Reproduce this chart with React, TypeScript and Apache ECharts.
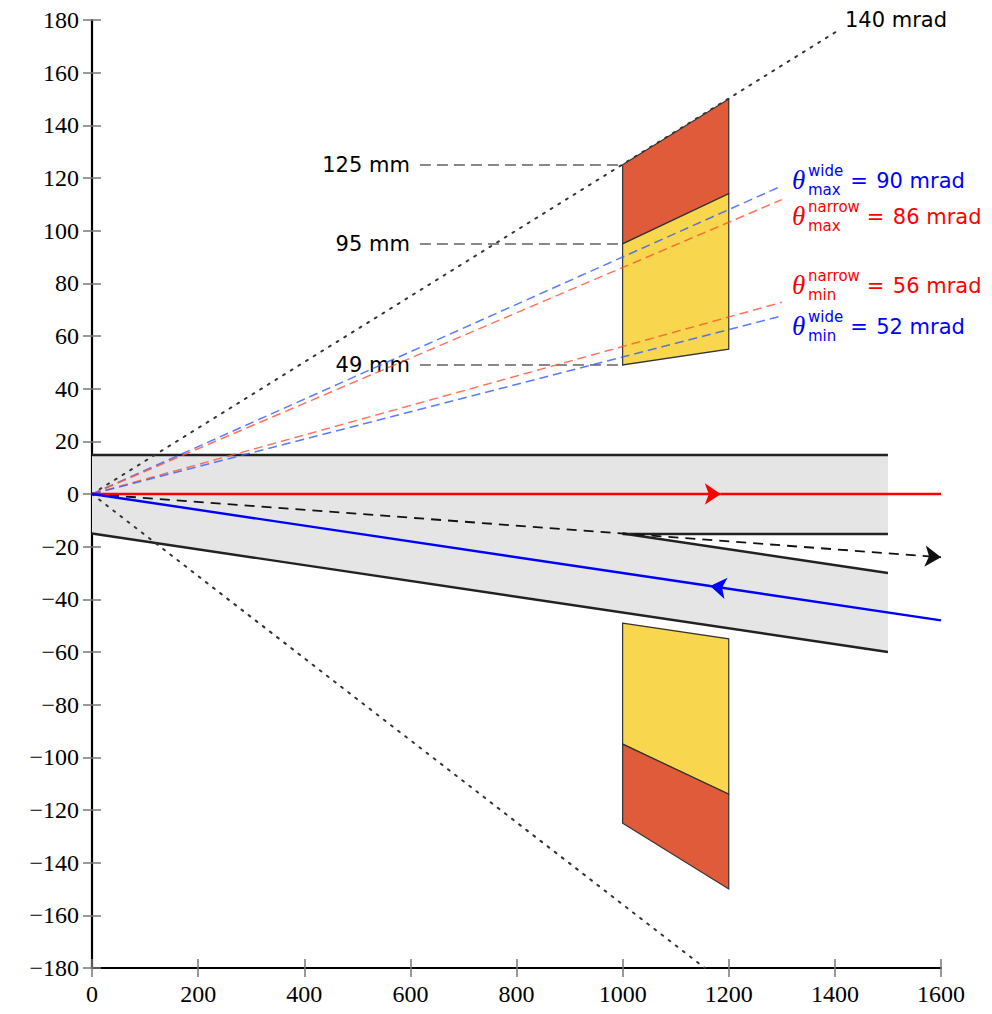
import React, { useEffect, useRef } from "react";
import * as echarts from "echarts";

// ---------- data ----------
const xMin = 0;
const xMax = 1600;
const xInterval = 200;
const yMin = -180;
const yMax = 180;
const yInterval = 20;

// beam pipe (gray band) outline, in (z mm, r mm)
const bandOutline: number[][] = [
  [0, 15], [1500, 15], [1500, -15], [1000, -15], [1500, -30], [1500, -60], [0, -15],
];
const bandEdges: number[][][] = [
  [[0, 15], [1500, 15]],
  [[0, -15], [1500, -60]],
  [[1000, -15], [1500, -15]],
  [[1000, -15], [1500, -30]],
];

// detector blocks
const upperOrange: number[][] = [[1000, 125], [1200, 150], [1200, 114], [1000, 95]];
const upperYellow: number[][] = [[1000, 95], [1200, 114], [1200, 55], [1000, 49]];
const lowerYellow: number[][] = [[1000, -49], [1200, -55], [1200, -114], [1000, -95]];
const lowerOrange: number[][] = [[1000, -95], [1200, -114], [1200, -150], [1000, -125]];

// acceptance (dotted) lines
const dottedLines: number[][][] = [
  [[0, 0], [1406, 176]],
  [[0, 0], [1155, -180]],
];
const acceptanceLabel = "140 mrad";

// radius markers
const radiusLevels = [125, 95, 49];
const radiusLineStartZ = 618;
const detectorZ = 1000;

// theta lines (mrad)
const thetaNames = ["wide", "narrow", "narrow", "wide"];
const thetaBounds = ["max", "max", "min", "min"];
const thetaMrad = [90, 86, 56, 52];
const thetaEndZ = 1300;

// beams
const redBeam: number[][] = [[0, 0], [1600, 0]];
const redArrowZ = 1185;
const blueBeam: number[][] = [[0, 0], [1600, -48]];
const blueArrowZ = 1165;
const blackBeam: number[][] = [[0, 0], [1600, -24]];

// ---------- layout / style ----------
const BLUE = "#0000ff";
const RED = "#ff0000";
const ORANGE = "#e05b3a";
const YELLOW = "#f8d64e";
const thetaLabelZ = 1321;
const thetaLabelR = [119.3, 105.7, 79.3, 63.9];
const acceptanceLabelPos = [1419, 180];
const SANS = '"DejaVu Sans"';
const SERIF = '"Liberation Serif"';
const CHART_W = 984;
const CHART_H = 998;

const interp = (line: number[][], z: number) => {
  const [a, b] = line;
  return a[1] + ((b[1] - a[1]) * (z - a[0])) / (b[0] - a[0]);
};

export default function App() {
  const ref = useRef<HTMLDivElement>(null);
  useEffect(() => {
    if (!ref.current) return;
    const chart = echarts.init(ref.current, undefined, { renderer: "svg" });

    const polyItems = [
      { pts: upperOrange, color: ORANGE },
      { pts: upperYellow, color: YELLOW },
      { pts: lowerYellow, color: YELLOW },
      { pts: lowerOrange, color: ORANGE },
    ];

    const redArrowPt = [redArrowZ, interp(redBeam, redArrowZ)];
    const blueArrowPt = [blueArrowZ, interp(blueBeam, blueArrowZ)];

    const fmt = (v: number) => (v < 0 ? "\u2212" + Math.abs(v) : String(v));
    const labelFont = { fontFamily: SERIF, fontSize: 24, color: "#000" };

    const option: any = {
      animation: false,
      grid: { left: 84, right: 51, top: 9, bottom: 34, containLabel: false },
      xAxis: [
        {
          type: "value", min: xMin, max: xMax, interval: xInterval, position: "bottom",
          axisLine: { show: true, onZero: false, lineStyle: { color: "#000", width: 2.2 } },
          axisTick: { show: true, inside: false, length: 9, lineStyle: { color: "#777", width: 1.5 } },
          axisLabel: { ...labelFont, margin: 14, formatter: fmt },
          splitLine: { show: false },
        },
        {
          type: "value", min: xMin, max: xMax, interval: xInterval, position: "bottom",
          axisLine: { show: false, onZero: false },
          axisTick: { show: true, inside: true, length: 9, lineStyle: { color: "#777", width: 1.5 } },
          axisLabel: { show: false },
          splitLine: { show: false },
        },
      ],
      yAxis: [
        {
          type: "value", min: yMin, max: yMax, interval: yInterval, position: "left",
          axisLine: { show: true, onZero: false, lineStyle: { color: "#000", width: 2.2 } },
          axisTick: { show: true, inside: false, length: 9, lineStyle: { color: "#777", width: 1.5 } },
          axisLabel: { ...labelFont, margin: 13, formatter: fmt },
          splitLine: { show: false },
        },
        {
          type: "value", min: yMin, max: yMax, interval: yInterval, position: "left",
          axisLine: { show: false, onZero: false },
          axisTick: { show: true, inside: true, length: 9, lineStyle: { color: "#777", width: 1.5 } },
          axisLabel: { show: false },
          splitLine: { show: false },
        },
      ],
      series: [
        // gray band
        {
          type: "custom", coordinateSystem: "cartesian2d", z: 1, silent: true,
          data: [bandOutline[0]],
          renderItem: (_p: any, api: any) => ({
            type: "polygon",
            shape: { points: bandOutline.map((p) => api.coord(p)) },
            style: { fill: "#e5e5e5", stroke: "none" },
          }),
        },
        // band edges
        {
          type: "lines", coordinateSystem: "cartesian2d", z: 2, silent: true,
          symbol: "none",
          lineStyle: { color: "#222", width: 2.4, opacity: 1 },
          data: bandEdges.map((c) => ({ coords: c })),
        },
        // dotted acceptance
        {
          type: "lines", coordinateSystem: "cartesian2d", z: 3, silent: true,
          symbol: "none",
          lineStyle: { color: "#333", width: 2, type: [2, 7], cap: "round", opacity: 1 },
          data: dottedLines.map((c) => ({ coords: c })),
        },
        // radius markers
        {
          type: "lines", coordinateSystem: "cartesian2d", z: 3, silent: true,
          symbol: "none",
          lineStyle: { color: "#888", width: 2, type: [11, 6], opacity: 1 },
          label: {
            show: true, position: "start", distance: 10,
            formatter: (p: any) => `${p.value} mm`,
            fontFamily: SANS, fontSize: 21, color: "#000",
          },
          data: radiusLevels.map((r) => ({ coords: [[radiusLineStartZ, r], [detectorZ, r]], value: r })),
        },
        // detectors
        {
          type: "custom", coordinateSystem: "cartesian2d", z: 4, silent: true,
          data: polyItems.map((p) => p.pts[0]),
          renderItem: (params: any, api: any) => {
            const it = polyItems[params.dataIndex];
            return {
              type: "polygon",
              shape: { points: it.pts.map((p) => api.coord(p)) },
              style: { fill: it.color, stroke: "#333", lineWidth: 1.2 },
            };
          },
        },
        // theta dashed lines
        {
          type: "lines", coordinateSystem: "cartesian2d", z: 5, silent: true,
          symbol: "none",
          data: thetaMrad.map((m, i) => ({
            coords: [[0, 0], [thetaEndZ, (thetaEndZ * m) / 1000]],
            lineStyle: {
              color: thetaNames[i] === "wide" ? "rgba(50,90,255,0.8)" : "rgba(255,80,50,0.8)",
              width: 1.5, type: [9, 5], opacity: 1,
            },
          })),
        },
        // black dashed beam with arrow
        {
          type: "lines", coordinateSystem: "cartesian2d", z: 6, silent: true,
          symbol: ["none", "arrow"], symbolSize: 16,
          lineStyle: { color: "#111", width: 1.8, type: [10, 7], opacity: 1 },
          data: [{ coords: blackBeam }],
        },
        // red beam
        {
          type: "lines", coordinateSystem: "cartesian2d", z: 7, silent: true,
          lineStyle: { color: RED, width: 2.4, opacity: 1 },
          data: [
            { coords: [redBeam[0], redArrowPt], symbol: ["none", "arrow"], symbolSize: 16 },
            { coords: [redArrowPt, redBeam[1]], symbol: "none" },
          ],
          symbol: ["none", "arrow"], symbolSize: 16,
        },
        // blue beam
        {
          type: "lines", coordinateSystem: "cartesian2d", z: 7, silent: true,
          lineStyle: { color: BLUE, width: 2.4, opacity: 1 },
          data: [
            { coords: [blueBeam[1], blueArrowPt], symbol: ["none", "arrow"], symbolSize: 16 },
            { coords: [blueArrowPt, blueBeam[0]], symbol: "none" },
          ],
          symbol: ["none", "arrow"], symbolSize: 16,
        },
      ],
    };
    chart.setOption(option);

    // text annotations
    const canvas = document.createElement("canvas");
    const ctx = canvas.getContext("2d")!;
    const measure = (t: string, font: string) => {
      ctx.font = font;
      return ctx.measureText(t).width;
    };
    const graphics: any[] = [];
    const txt = (x: number, y: number, text: string, font: string, fill: string, align = "left") => ({
      type: "text", x, y, z: 100, silent: true,
      style: {
        text, font, fill, textAlign: align, textVerticalAlign: "middle", align, verticalAlign: "middle",
      },
    });
    const supFont = `15px ${SANS}`;
    const mainFont = `21px ${SANS}`;
    thetaMrad.forEach((m, i) => {
      const color = thetaNames[i] === "wide" ? BLUE : RED;
      const [px, py] = chart.convertToPixel({ gridIndex: 0 }, [thetaLabelZ, thetaLabelR[i]]) as number[];
      const w = Math.max(measure(thetaNames[i], supFont), measure(thetaBounds[i], supFont));
      graphics.push(txt(px - 1, py, "\u03b8", `italic 27px ${SERIF}`, color));
      graphics.push(txt(px + 15, py - 9, thetaNames[i], supFont, color));
      graphics.push(txt(px + 15, py + 10, thetaBounds[i], supFont, color));
      const ex = px + 15 + w + 7;
      graphics.push(txt(ex, py + 1, "=", mainFont, color));
      graphics.push(txt(ex + 26, py + 1, `${m} mrad`, mainFont, color));
    });
    const [ax, ay] = chart.convertToPixel({ gridIndex: 0 }, acceptanceLabelPos) as number[];
    graphics.push(txt(ax, ay, acceptanceLabel, `21px ${SANS}`, "#000"));
    chart.setOption({ graphic: graphics });

    return () => chart.dispose();
  }, []);
  return <div ref={ref} style={{ width: CHART_W, height: CHART_H, overflow: "hidden" }} />;
}
